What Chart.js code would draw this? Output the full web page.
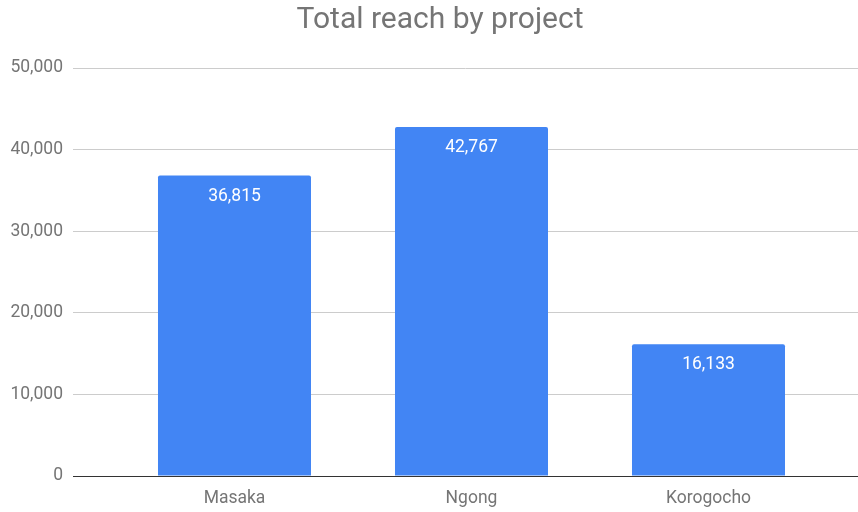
<!DOCTYPE html>
<html>
<head>
<meta charset="utf-8">
<script src="https://cdn.jsdelivr.net/npm/chart.js@4"></script>
<style>
html,body{margin:0;padding:0;background:#fff;}
#wrap{width:858px;height:512px;position:relative;}
</style>
</head>
<body>
<div id="wrap"><canvas id="c" width="858" height="512"></canvas></div>
<script>
const categories = ["Masaka", "Ngong", "Korogocho"];
const reachValues = [36815, 42767, 16133];
const yTicks = [0, 10000, 20000, 30000, 40000, 50000];
const chartTitle = "Total reach by project";

const fmt = v => v.toLocaleString('en-US');

const titlePlugin = {
  id: 'titlePlugin',
  beforeDraw(chart) {
    const ctx = chart.ctx;
    ctx.save();
    ctx.fillStyle = '#757575';
    ctx.font = '30px Roboto';
    ctx.textAlign = 'center';
    ctx.textBaseline = 'alphabetic';
    ctx.fillText(chartTitle, 440, 28);
    ctx.restore();
  }
};

const valueLabels = {
  id: 'valueLabels',
  afterDatasetsDraw(chart) {
    const ctx = chart.ctx;
    const meta = chart.getDatasetMeta(0);
    ctx.save();
    ctx.fillStyle = '#ffffff';
    ctx.font = '17.5px Roboto';
    ctx.textAlign = 'center';
    ctx.textBaseline = 'alphabetic';
    meta.data.forEach((bar, i) => {
      ctx.fillText(fmt(reachValues[i]), bar.x, bar.y + 25);
    });
    ctx.restore();
  }
};

new Chart(document.getElementById('c'), {
  type: 'bar',
  data: {
    datasets: [{
      data: categories.map((c, i) => ({ x: i, y: reachValues[i] })),
      backgroundColor: '#4285f4',
      borderRadius: 2,
      barPercentage: 0.6456,
      categoryPercentage: 1.0
    }]
  },
  options: {
    responsive: false,
    animation: false,
    layout: { padding: { left: 0, right: 0, top: 68, bottom: 0 } },
    plugins: {
      legend: { display: false },
      tooltip: { enabled: false },
      title: { display: false }
    },
    scales: {
      x: {
        type: 'linear',
        offset: false,
        min: -0.6814,
        max: 2.6308,
        afterBuildTicks(scale) { scale.ticks = categories.map((c, i) => ({ value: i })); },
        grid: { display: false, drawTicks: false, offset: false },
        border: { display: true, color: '#333333', width: 1 },
        ticks: {
          color: '#757575',
          font: { family: 'Roboto', size: 17.5 },
          padding: 12,
          autoSkip: false,
          maxRotation: 0,
          callback: v => categories[v]
        },
        afterFit(scale) { scale.height = 36; }
      },
      y: {
        min: 0,
        max: 50000,
        afterBuildTicks(scale) { scale.ticks = yTicks.map(v => ({ value: v })); },
        grid: {
          drawTicks: false,
          color: ctx => (ctx.tick && ctx.tick.value === 0) ? '#333333' : '#cccccc',
          lineWidth: 1
        },
        border: { display: false },
        ticks: {
          color: '#757575',
          font: { family: 'Roboto', size: 17.5 },
          padding: 10,
          callback: v => fmt(v)
        },
        afterFit(scale) { scale.width = 73; }
      }
    }
  },
  plugins: [titlePlugin, valueLabels]
});
</script>
</body>
</html>
